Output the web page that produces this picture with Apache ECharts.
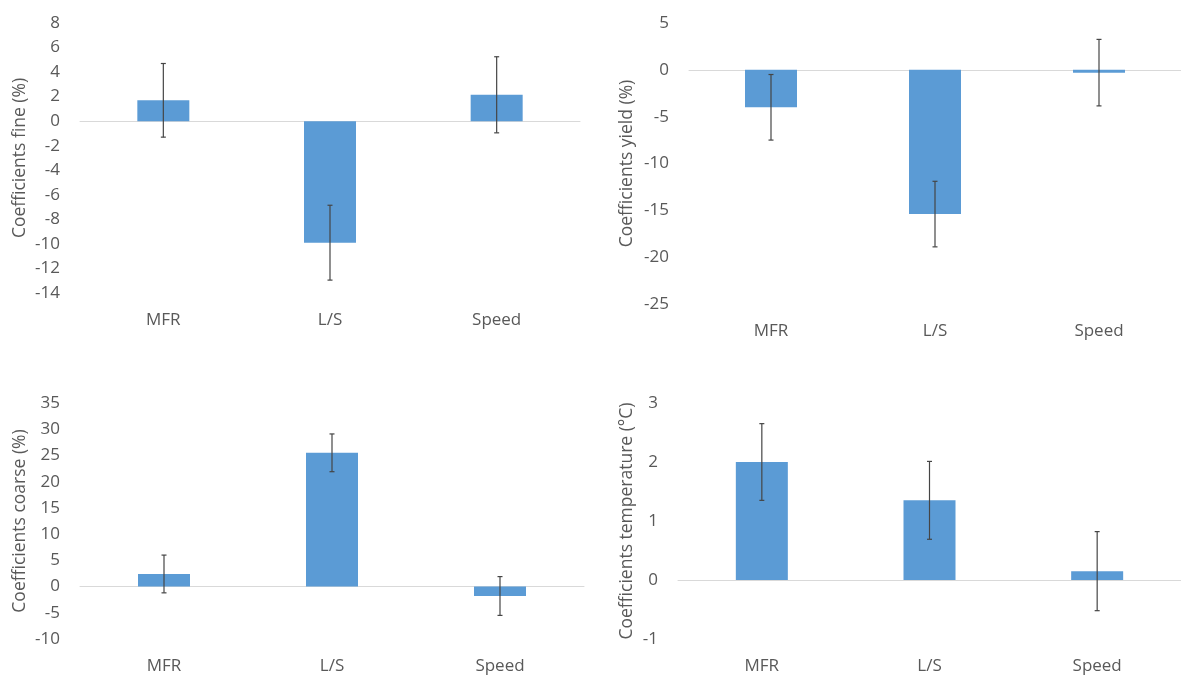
<!DOCTYPE html>
<html>
<head>
<meta charset="utf-8">
<script src="https://cdn.jsdelivr.net/npm/echarts@6/dist/echarts.min.js"></script>
<style>
html,body{margin:0;padding:0;background:#fff;}
#chart{width:1181px;height:675px;}
</style>
</head>
<body>
<div id="chart"></div>
<script>
var categories = ['MFR', 'L/S', 'Speed'];

var fineValues = [1.7, -9.9, 2.15];
var fineErrors = [3.0, 3.05, 3.1];

var yieldValues = [-4.0, -15.4, -0.3];
var yieldErrors = [3.5, 3.5, 3.55];

var coarseValues = [2.4, 25.5, -1.8];
var coarseErrors = [3.6, 3.6, 3.7];

var tempValues = [2.0, 1.35, 0.15];
var tempErrors = [0.65, 0.66, 0.67];

var axisNames = ['Coefficients fine (%)', 'Coefficients yield (%)', 'Coefficients coarse (%)', 'Coefficients temperature (°C)'];
var axisMins = [-14, -25, -10, -1];
var axisMaxs = [8, 5, 35, 3];
var axisIntervals = [2, 5, 5, 1];

var panels = [
  {values: fineValues, errors: fineErrors},
  {values: yieldValues, errors: yieldErrors},
  {values: coarseValues, errors: coarseErrors},
  {values: tempValues, errors: tempErrors}
];

var grids = [
  {left: 80, top: 23, width: 500, height: 270},
  {left: 689, top: 23, width: 497, height: 281},
  {left: 80, top: 403, width: 504, height: 236},
  {left: 678, top: 403, width: 508, height: 236}
];
var nameGaps = [51, 53, 51, 42];

var textColor = '#595959';
var fontFamily = 'Open Sans';

function errorRender(params, api) {
  var x = api.value(0);
  var lo = api.coord([x, api.value(1)]);
  var hi = api.coord([x, api.value(2)]);
  var cap = 2.5;
  var style = {stroke: '#454545', lineWidth: 1.2};
  return {
    type: 'group',
    children: [
      {type: 'line', shape: {x1: lo[0], y1: lo[1], x2: hi[0], y2: hi[1]}, style: style},
      {type: 'line', shape: {x1: hi[0] - cap, y1: hi[1], x2: hi[0] + cap, y2: hi[1]}, style: style},
      {type: 'line', shape: {x1: lo[0] - cap, y1: lo[1], x2: lo[0] + cap, y2: lo[1]}, style: style}
    ]
  };
}

var option = {
  animation: false,
  backgroundColor: '#ffffff',
  grid: grids,
  xAxis: [],
  yAxis: [],
  series: []
};

panels.forEach(function (p, i) {
  option.xAxis.push({
    type: 'category',
    gridIndex: i,
    data: categories,
    position: 'bottom',
    axisLine: {show: false},
    axisTick: {show: false},
    axisLabel: {color: textColor, fontSize: 17, fontFamily: fontFamily, margin: 19},
    splitLine: {show: false}
  });
  option.yAxis.push({
    type: 'value',
    gridIndex: i,
    min: axisMins[i],
    max: axisMaxs[i],
    interval: axisIntervals[i],
    name: axisNames[i],
    nameLocation: 'middle',
    nameGap: nameGaps[i],
    nameTextStyle: {color: textColor, fontSize: 17.5, fontFamily: fontFamily},
    axisLine: {show: false},
    axisTick: {show: false},
    splitLine: {show: false},
    axisLabel: {color: textColor, fontSize: 17, fontFamily: fontFamily, margin: 20}
  });
  option.series.push({
    type: 'bar',
    xAxisIndex: i,
    yAxisIndex: i,
    data: p.values,
    barWidth: 52,
    itemStyle: {color: '#5b9bd5'},
    z: 2
  });
  option.series.push({
    type: 'custom',
    xAxisIndex: i,
    yAxisIndex: i,
    renderItem: errorRender,
    encode: {x: 0, y: [1, 2]},
    data: p.values.map(function (v, j) { return [j, v - p.errors[j], v + p.errors[j]]; }),
    z: 5
  });
});

panels.forEach(function (p, i) {
  option.xAxis.push({
    type: 'category',
    gridIndex: i,
    data: categories,
    position: 'bottom',
    axisLine: {show: true, onZero: true, onZeroAxisIndex: i, lineStyle: {color: '#d9d9d9', width: 1}},
    axisTick: {show: false},
    axisLabel: {show: false},
    splitLine: {show: false},
    z: 0
  });
});

var chart = echarts.init(document.getElementById('chart'));
chart.setOption(option);
</script>
</body>
</html>
